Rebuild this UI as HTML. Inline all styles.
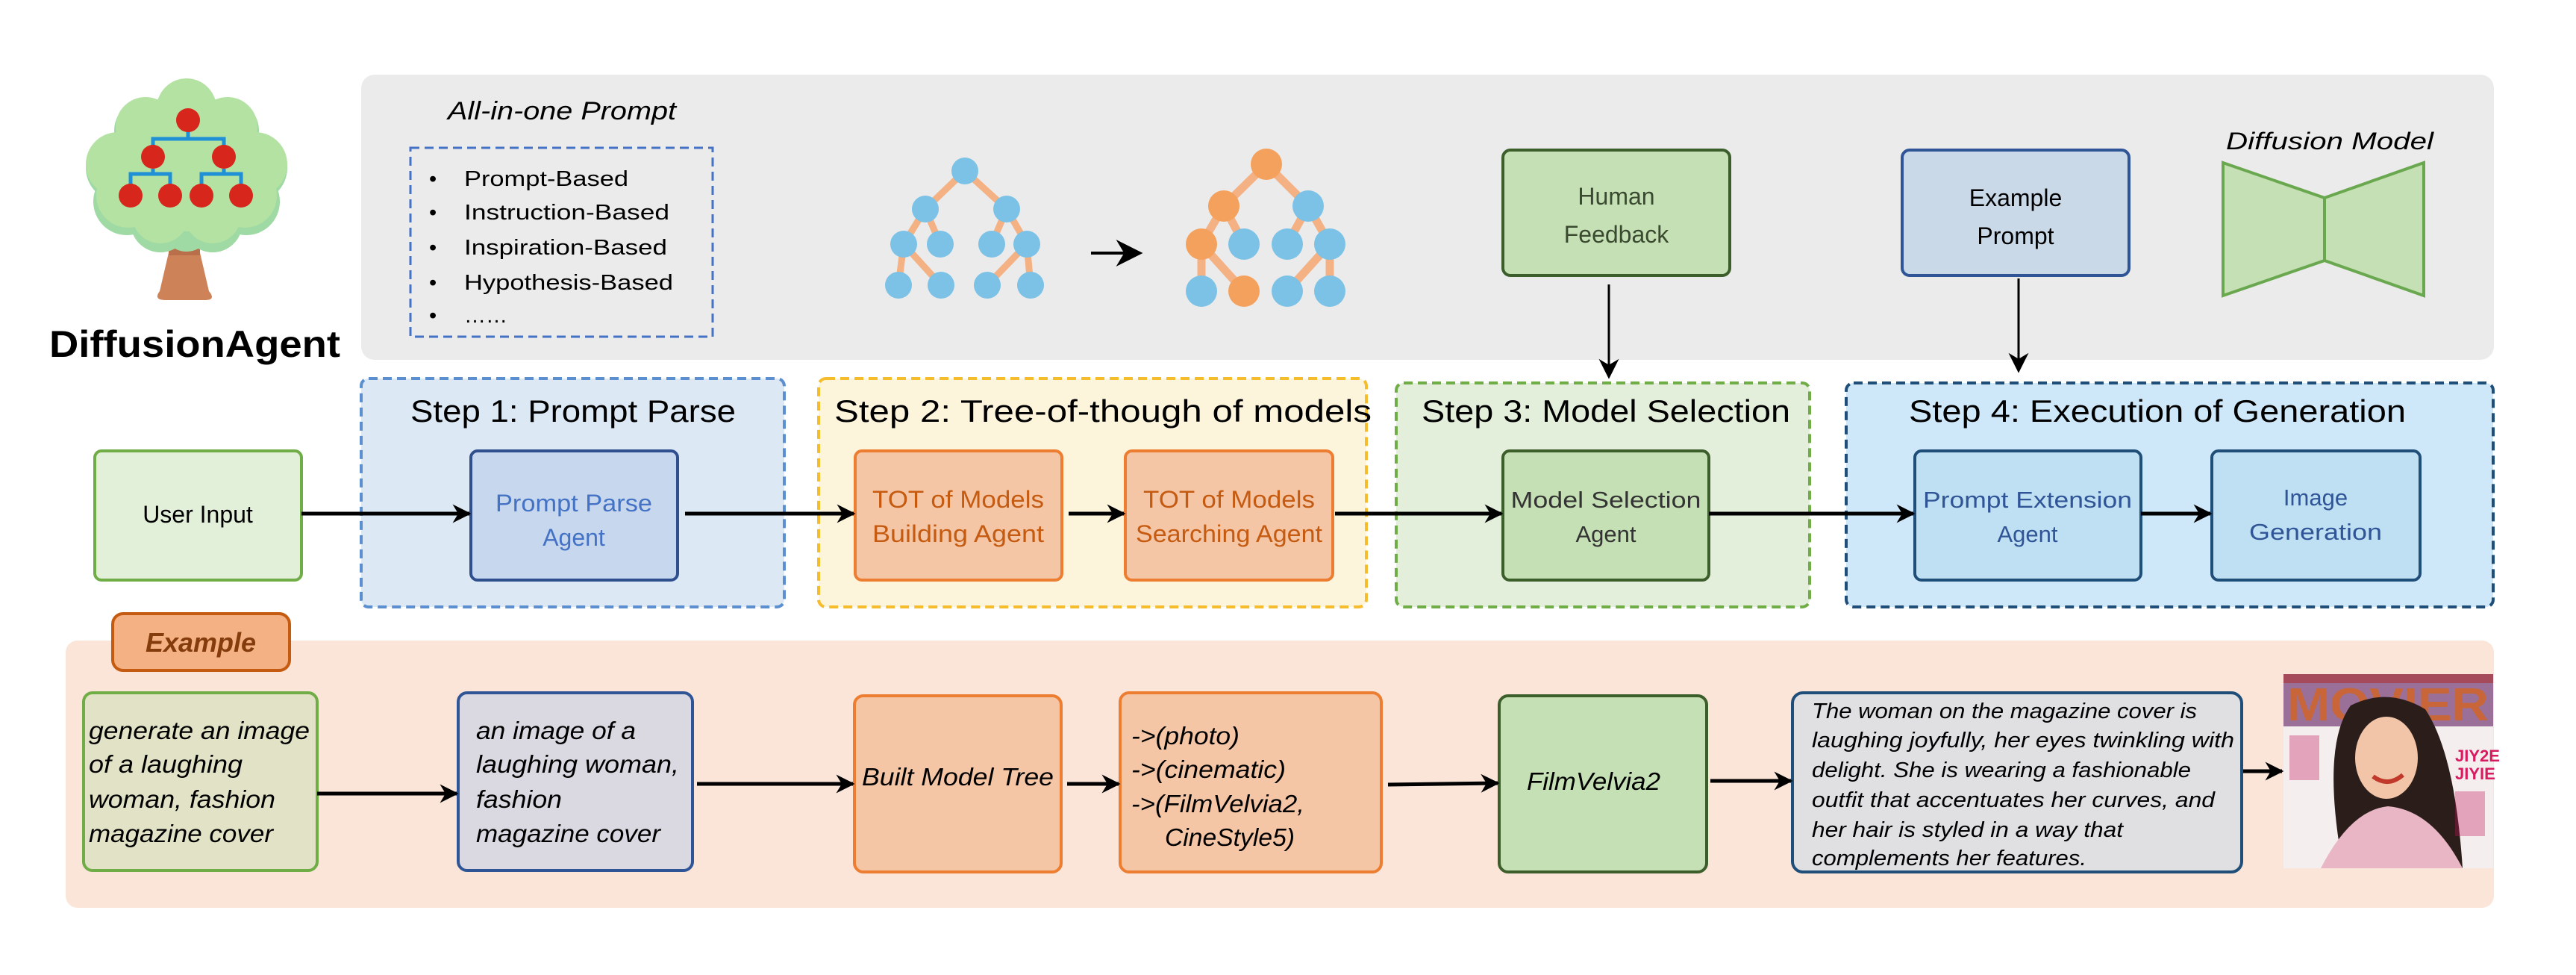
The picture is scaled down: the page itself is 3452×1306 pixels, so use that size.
<!DOCTYPE html>
<html><head><meta charset="utf-8"><style>
html,body{margin:0;padding:0;background:#fff;}
svg{display:block;}
text{font-family:"Liberation Sans",sans-serif;}
.it{font-style:italic;}
</style></head><body>
<svg width="3452" height="1306" viewBox="0 0 3452 1306" xmlns="http://www.w3.org/2000/svg">
<defs>
<marker id="ah" viewBox="0 0 10 10" refX="9" refY="5" markerWidth="5" markerHeight="5" orient="auto" markerUnits="strokeWidth"><path d="M0,0 L10,5 L0,10 L3,5 z" fill="#000"/></marker>
<marker id="ah2" viewBox="0 0 10 10" refX="9" refY="5" markerWidth="9" markerHeight="9" orient="auto" markerUnits="strokeWidth"><path d="M0,0 L10,5 L0,10 L3,5 z" fill="#000"/></marker>
</defs>

<rect x="484" y="100" width="2858" height="382" rx="18" fill="#ebebeb"/>

<g>
<path d="M228,330 L266,330 L280,390 Q290,402 275,402 L222,402 Q205,402 214,390 Z" fill="#cd8257"/>
<rect x="226" y="330" width="42" height="12" fill="#b86f4a"/>
<g fill="#9fd9a4">
<circle cx="250" cy="150" r="42"/><circle cx="195" cy="175" r="42"/><circle cx="305" cy="175" r="42"/>
<circle cx="160" cy="225" r="45"/><circle cx="340" cy="225" r="45"/><circle cx="170" cy="270" r="45"/><circle cx="330" cy="270" r="45"/>
<circle cx="215" cy="298" r="40"/><circle cx="285" cy="298" r="40"/><circle cx="250" cy="305" r="32"/>
</g>
<g fill="#b3e2a2">
<circle cx="250" cy="145" r="40"/><circle cx="195" cy="170" r="40"/><circle cx="305" cy="170" r="40"/>
<circle cx="158" cy="220" r="43"/><circle cx="342" cy="220" r="43"/><circle cx="172" cy="262" r="43"/><circle cx="328" cy="262" r="43"/>
<circle cx="215" cy="288" r="38"/><circle cx="285" cy="288" r="38"/><circle cx="250" cy="230" r="80"/>
</g>
<g stroke="#1f8fd6" stroke-width="5" fill="none">
<path d="M252,175 V186 M205,195 V186 H300 V195 M205,226 V233 M175,248 V233 H228 V248 M300,226 V233 M270,248 V233 H323 V248"/>
</g>
<g fill="#d7261b">
<circle cx="252" cy="161" r="16"/><circle cx="205" cy="210" r="16"/><circle cx="300" cy="210" r="16"/>
<circle cx="175" cy="262" r="16"/><circle cx="228" cy="262" r="16"/><circle cx="270" cy="262" r="16"/><circle cx="323" cy="262" r="16"/>
</g>
</g>
<text x="66" y="478" font-size="50" font-weight="bold" textLength="390" lengthAdjust="spacingAndGlyphs">DiffusionAgent</text>

<text x="600" y="160" font-size="34" class="it" textLength="306" lengthAdjust="spacingAndGlyphs">All-in-one Prompt</text>
<rect x="550" y="198" width="405" height="253" fill="none" stroke="#4472c4" stroke-width="3" stroke-dasharray="12,7"/>
<g font-size="29">
<text x="575" y="249">•</text><text x="622" y="249" textLength="220" lengthAdjust="spacingAndGlyphs">Prompt-Based</text>
<text x="575" y="294">•</text><text x="622" y="294" textLength="275" lengthAdjust="spacingAndGlyphs">Instruction-Based</text>
<text x="575" y="341">•</text><text x="622" y="341" textLength="272" lengthAdjust="spacingAndGlyphs">Inspiration-Based</text>
<text x="575" y="388">•</text><text x="622" y="388" textLength="280" lengthAdjust="spacingAndGlyphs">Hypothesis-Based</text>
<text x="575" y="432">•</text><text x="622" y="432">……</text>
</g>

<g stroke="#f4b184" stroke-width="9">
<line x1="1293" y1="229" x2="1240" y2="280"/><line x1="1293" y1="229" x2="1349" y2="280"/>
<line x1="1240" y1="280" x2="1211" y2="327"/><line x1="1240" y1="280" x2="1260" y2="327"/>
<line x1="1349" y1="280" x2="1329" y2="327"/><line x1="1349" y1="280" x2="1376" y2="327"/>
<line x1="1211" y1="327" x2="1204" y2="382"/><line x1="1211" y1="327" x2="1261" y2="382"/>
<line x1="1376" y1="327" x2="1323" y2="382"/><line x1="1376" y1="327" x2="1381" y2="382"/>
</g>
<g fill="#7cc1e6">
<circle cx="1293" cy="229" r="18"/><circle cx="1240" cy="280" r="18"/><circle cx="1349" cy="280" r="18"/>
<circle cx="1211" cy="327" r="18"/><circle cx="1260" cy="327" r="18"/><circle cx="1329" cy="327" r="18"/><circle cx="1376" cy="327" r="18"/>
<circle cx="1204" cy="382" r="18"/><circle cx="1261" cy="382" r="18"/><circle cx="1323" cy="382" r="18"/><circle cx="1381" cy="382" r="18"/>
</g>
<line x1="1462" y1="339" x2="1528" y2="339" stroke="#000" stroke-width="4" marker-end="url(#ah2)"/>

<g stroke="#f4b184" stroke-width="11">
<line x1="1697" y1="220" x2="1640" y2="276"/><line x1="1697" y1="220" x2="1753" y2="276"/>
<line x1="1640" y1="276" x2="1610" y2="327"/><line x1="1640" y1="276" x2="1667" y2="327"/>
<line x1="1753" y1="276" x2="1725" y2="327"/><line x1="1753" y1="276" x2="1782" y2="327"/>
<line x1="1610" y1="327" x2="1610" y2="390"/><line x1="1610" y1="327" x2="1667" y2="390"/>
<line x1="1782" y1="327" x2="1725" y2="390"/><line x1="1782" y1="327" x2="1782" y2="390"/>
</g>
<g>
<circle cx="1697" cy="220" r="21" fill="#f4a15d"/><circle cx="1640" cy="276" r="21" fill="#f4a15d"/><circle cx="1753" cy="276" r="21" fill="#7cc1e6"/>
<circle cx="1610" cy="327" r="21" fill="#f4a15d"/><circle cx="1667" cy="327" r="21" fill="#7cc1e6"/><circle cx="1725" cy="327" r="21" fill="#7cc1e6"/><circle cx="1782" cy="327" r="21" fill="#7cc1e6"/>
<circle cx="1610" cy="390" r="21" fill="#7cc1e6"/><circle cx="1667" cy="390" r="21" fill="#f4a15d"/><circle cx="1725" cy="390" r="21" fill="#7cc1e6"/><circle cx="1782" cy="390" r="21" fill="#7cc1e6"/>
</g>

<rect x="2014" y="201" width="304" height="168" rx="10" fill="#c5e0b4" stroke="#3b5e2b" stroke-width="4"/>
<text x="2166" y="274" font-size="32" text-anchor="middle" fill="#3a4a30">Human</text>
<text x="2166" y="325" font-size="32" text-anchor="middle" fill="#3a4a30">Feedback</text>
<rect x="2549" y="201" width="304" height="168" rx="10" fill="#c9d9e8" stroke="#2f5597" stroke-width="4"/>
<text x="2701" y="276" font-size="32" text-anchor="middle">Example</text>
<text x="2701" y="327" font-size="32" text-anchor="middle">Prompt</text>
<line x1="2156" y1="381" x2="2156" y2="505" stroke="#000" stroke-width="3" marker-end="url(#ah2)"/>
<line x1="2705" y1="373" x2="2705" y2="497" stroke="#000" stroke-width="3" marker-end="url(#ah2)"/>

<text x="3122" y="200" font-size="32" class="it" text-anchor="middle" textLength="278" lengthAdjust="spacingAndGlyphs">Diffusion Model</text>
<path d="M2979,218 L3115,265 L3248,218 L3248,396 L3115,349 L2979,396 Z" fill="#c5e0b4" stroke="#6aa84f" stroke-width="4"/>
<line x1="3115" y1="265" x2="3115" y2="349" stroke="#6aa84f" stroke-width="4"/>

<rect x="484" y="507" width="567" height="306" rx="10" fill="#dde8f5" stroke="#5b8fd0" stroke-width="4" stroke-dasharray="12,7"/>
<rect x="1097" y="507" width="734" height="306" rx="10" fill="#fdf4dc" stroke="#f5bd2c" stroke-width="4" stroke-dasharray="12,7"/>
<rect x="1871" y="513" width="554" height="300" rx="10" fill="#e3efda" stroke="#70ad47" stroke-width="4" stroke-dasharray="12,7"/>
<rect x="2474" y="513" width="867" height="300" rx="10" fill="#cfe8f9" stroke="#1f4e79" stroke-width="4" stroke-dasharray="12,7"/>
<g font-size="42">
<text x="550" y="565" textLength="436" lengthAdjust="spacingAndGlyphs">Step 1: Prompt Parse</text>
<text x="1118" y="565" textLength="720" lengthAdjust="spacingAndGlyphs">Step 2: Tree-of-though of models</text>
<text x="1905" y="565" textLength="494" lengthAdjust="spacingAndGlyphs">Step 3: Model Selection</text>
<text x="2558" y="565" textLength="666" lengthAdjust="spacingAndGlyphs">Step 4: Execution of Generation</text>
</g>

<rect x="127" y="604" width="277" height="173" rx="9" fill="#e2efd9" stroke="#70ad47" stroke-width="4"/>
<text x="265" y="700" font-size="32" text-anchor="middle">User Input</text>
<rect x="631" y="604" width="277" height="173" rx="9" fill="#c7d7ed" stroke="#2f4f8f" stroke-width="4"/>
<text x="769" y="685" font-size="32" text-anchor="middle" fill="#4472c4" textLength="210" lengthAdjust="spacingAndGlyphs">Prompt Parse</text>
<text x="769" y="731" font-size="32" text-anchor="middle" fill="#4472c4">Agent</text>
<rect x="1146" y="604" width="277" height="173" rx="9" fill="#f5c6a5" stroke="#ed7d31" stroke-width="4"/>
<text x="1284" y="680" font-size="32" text-anchor="middle" fill="#c55a11" textLength="230" lengthAdjust="spacingAndGlyphs">TOT of Models</text>
<text x="1284" y="726" font-size="32" text-anchor="middle" fill="#c55a11" textLength="230" lengthAdjust="spacingAndGlyphs">Building Agent</text>
<rect x="1508" y="604" width="278" height="173" rx="9" fill="#f5c6a5" stroke="#ed7d31" stroke-width="4"/>
<text x="1647" y="680" font-size="32" text-anchor="middle" fill="#c55a11" textLength="230" lengthAdjust="spacingAndGlyphs">TOT of Models</text>
<text x="1647" y="726" font-size="32" text-anchor="middle" fill="#c55a11" textLength="250" lengthAdjust="spacingAndGlyphs">Searching Agent</text>
<rect x="2014" y="604" width="276" height="173" rx="9" fill="#c5e0b4" stroke="#3b5e2b" stroke-width="4"/>
<text x="2152" y="680" font-size="31" text-anchor="middle" fill="#333" textLength="255" lengthAdjust="spacingAndGlyphs">Model Selection</text>
<text x="2152" y="726" font-size="31" text-anchor="middle" fill="#333">Agent</text>
<rect x="2566" y="604" width="303" height="173" rx="9" fill="#bfdff3" stroke="#1f4e79" stroke-width="4"/>
<text x="2717" y="680" font-size="31" text-anchor="middle" fill="#2f5597" textLength="280" lengthAdjust="spacingAndGlyphs">Prompt Extension</text>
<text x="2717" y="726" font-size="31" text-anchor="middle" fill="#2f5597">Agent</text>
<rect x="2964" y="604" width="279" height="173" rx="9" fill="#bfdff3" stroke="#1f4e79" stroke-width="4"/>
<text x="3103" y="677" font-size="31" text-anchor="middle" fill="#2f5597">Image</text>
<text x="3103" y="723" font-size="31" text-anchor="middle" fill="#2f5597" textLength="178" lengthAdjust="spacingAndGlyphs">Generation</text>

<g stroke="#000" stroke-width="5">
<line x1="404" y1="688" x2="629" y2="688" marker-end="url(#ah)"/>
<line x1="918" y1="688" x2="1144" y2="688" marker-end="url(#ah)"/>
<line x1="1432" y1="688" x2="1506" y2="688" marker-end="url(#ah)"/>
<line x1="1789" y1="688" x2="2012" y2="688" marker-end="url(#ah)"/>
<line x1="2290" y1="688" x2="2564" y2="688" marker-end="url(#ah)"/>
<line x1="2869" y1="688" x2="2962" y2="688" marker-end="url(#ah)"/>
</g>

<rect x="88" y="858" width="3254" height="358" rx="16" fill="#fbe5d8"/>
<rect x="151" y="822" width="237" height="76" rx="14" fill="#f4b183" stroke="#c55a11" stroke-width="4"/>
<text x="269" y="873" font-size="36" font-weight="bold" class="it" text-anchor="middle" fill="#843c0c">Example</text>

<rect x="112" y="928" width="313" height="238" rx="12" fill="#e2e3c6" stroke="#70ad47" stroke-width="4"/>
<g font-size="33" class="it">
<text x="119" y="990" textLength="296" lengthAdjust="spacingAndGlyphs">generate an image</text>
<text x="119" y="1035" textLength="206" lengthAdjust="spacingAndGlyphs">of a laughing</text>
<text x="119" y="1082" textLength="250" lengthAdjust="spacingAndGlyphs">woman, fashion</text>
<text x="119" y="1128" textLength="247" lengthAdjust="spacingAndGlyphs">magazine cover</text>
</g>
<rect x="614" y="928" width="314" height="238" rx="12" fill="#dad8e0" stroke="#2f5597" stroke-width="4"/>
<g font-size="33" class="it">
<text x="638" y="990" textLength="214" lengthAdjust="spacingAndGlyphs">an image of a</text>
<text x="638" y="1035" textLength="272" lengthAdjust="spacingAndGlyphs">laughing woman,</text>
<text x="638" y="1082" textLength="115" lengthAdjust="spacingAndGlyphs">fashion</text>
<text x="638" y="1128" textLength="247" lengthAdjust="spacingAndGlyphs">magazine cover</text>
</g>
<rect x="1145" y="932" width="277" height="236" rx="12" fill="#f5c6a5" stroke="#ed7d31" stroke-width="4"/>
<text x="1155" y="1052" font-size="33" class="it" textLength="257" lengthAdjust="spacingAndGlyphs">Built Model Tree</text>
<rect x="1501" y="928" width="350" height="240" rx="12" fill="#f5c6a5" stroke="#ed7d31" stroke-width="4"/>
<g font-size="33" class="it">
<text x="1516" y="997" textLength="145" lengthAdjust="spacingAndGlyphs">-&gt;(photo)</text>
<text x="1516" y="1042" textLength="207" lengthAdjust="spacingAndGlyphs">-&gt;(cinematic)</text>
<text x="1516" y="1088" textLength="232" lengthAdjust="spacingAndGlyphs">-&gt;(FilmVelvia2,</text>
<text x="1561" y="1133" textLength="174" lengthAdjust="spacingAndGlyphs">CineStyle5)</text>
</g>
<rect x="2009" y="932" width="278" height="236" rx="12" fill="#c5e0b4" stroke="#3b5e2b" stroke-width="4"/>
<text x="2046" y="1058" font-size="33" class="it" textLength="179" lengthAdjust="spacingAndGlyphs">FilmVelvia2</text>
<rect x="2402" y="928" width="602" height="240" rx="14" fill="#e0e0e2" stroke="#1f4e79" stroke-width="4"/>
<g font-size="29" class="it">
<text x="2428" y="962" textLength="516" lengthAdjust="spacingAndGlyphs">The woman on the magazine cover is</text>
<text x="2428" y="1001" textLength="566" lengthAdjust="spacingAndGlyphs">laughing joyfully, her eyes twinkling with</text>
<text x="2428" y="1041" textLength="508" lengthAdjust="spacingAndGlyphs">delight. She is wearing a fashionable</text>
<text x="2428" y="1081" textLength="540" lengthAdjust="spacingAndGlyphs">outfit that accentuates her curves, and</text>
<text x="2428" y="1121" textLength="417" lengthAdjust="spacingAndGlyphs">her hair is styled in a way that</text>
<text x="2428" y="1159" textLength="368" lengthAdjust="spacingAndGlyphs">complements her features.</text>
</g>

<g stroke="#000" stroke-width="5">
<line x1="425" y1="1063" x2="612" y2="1063" marker-end="url(#ah)"/>
<line x1="934" y1="1050" x2="1143" y2="1050" marker-end="url(#ah)"/>
<line x1="1430" y1="1050" x2="1499" y2="1050" marker-end="url(#ah)"/>
<line x1="1860" y1="1051" x2="2007" y2="1049" marker-end="url(#ah)"/>
<line x1="2292" y1="1046" x2="2400" y2="1046" marker-end="url(#ah)"/>
<line x1="3006" y1="1033" x2="3058" y2="1033" marker-end="url(#ah)"/>
</g>

<g>
<rect x="3060" y="903" width="281" height="260" fill="#f4eeee"/>
<rect x="3060" y="903" width="281" height="70" fill="#9a7098"/>
<rect x="3060" y="903" width="281" height="12" fill="#a54a5a"/>
<text x="3200" y="965" font-size="62" font-family="Liberation Serif" font-weight="bold" text-anchor="middle" fill="#c8663a" textLength="270" lengthAdjust="spacingAndGlyphs">MOVIER</text>
<path d="M3140,1163 Q3110,1000 3150,945 Q3200,920 3250,950 Q3290,1010 3300,1163 Z" fill="#2b1d1a"/>
<ellipse cx="3198" cy="1015" rx="42" ry="55" fill="#f2c4a8"/>
<path d="M3180,1040 Q3200,1055 3220,1038" stroke="#c0392b" stroke-width="6" fill="none"/>
<path d="M3110,1163 Q3150,1085 3200,1080 Q3260,1085 3300,1163 Z" fill="#e8b6c4"/>
<text x="3290" y="1020" font-size="22" font-weight="bold" fill="#d81b60">JIY2E</text>
<text x="3290" y="1044" font-size="22" font-weight="bold" fill="#d81b60">JIYIE</text>
<rect x="3068" y="985" width="40" height="60" fill="#c2185b" opacity="0.35"/>
<rect x="3290" y="1060" width="40" height="60" fill="#c2185b" opacity="0.35"/>
</g>
</svg>
</body></html>
